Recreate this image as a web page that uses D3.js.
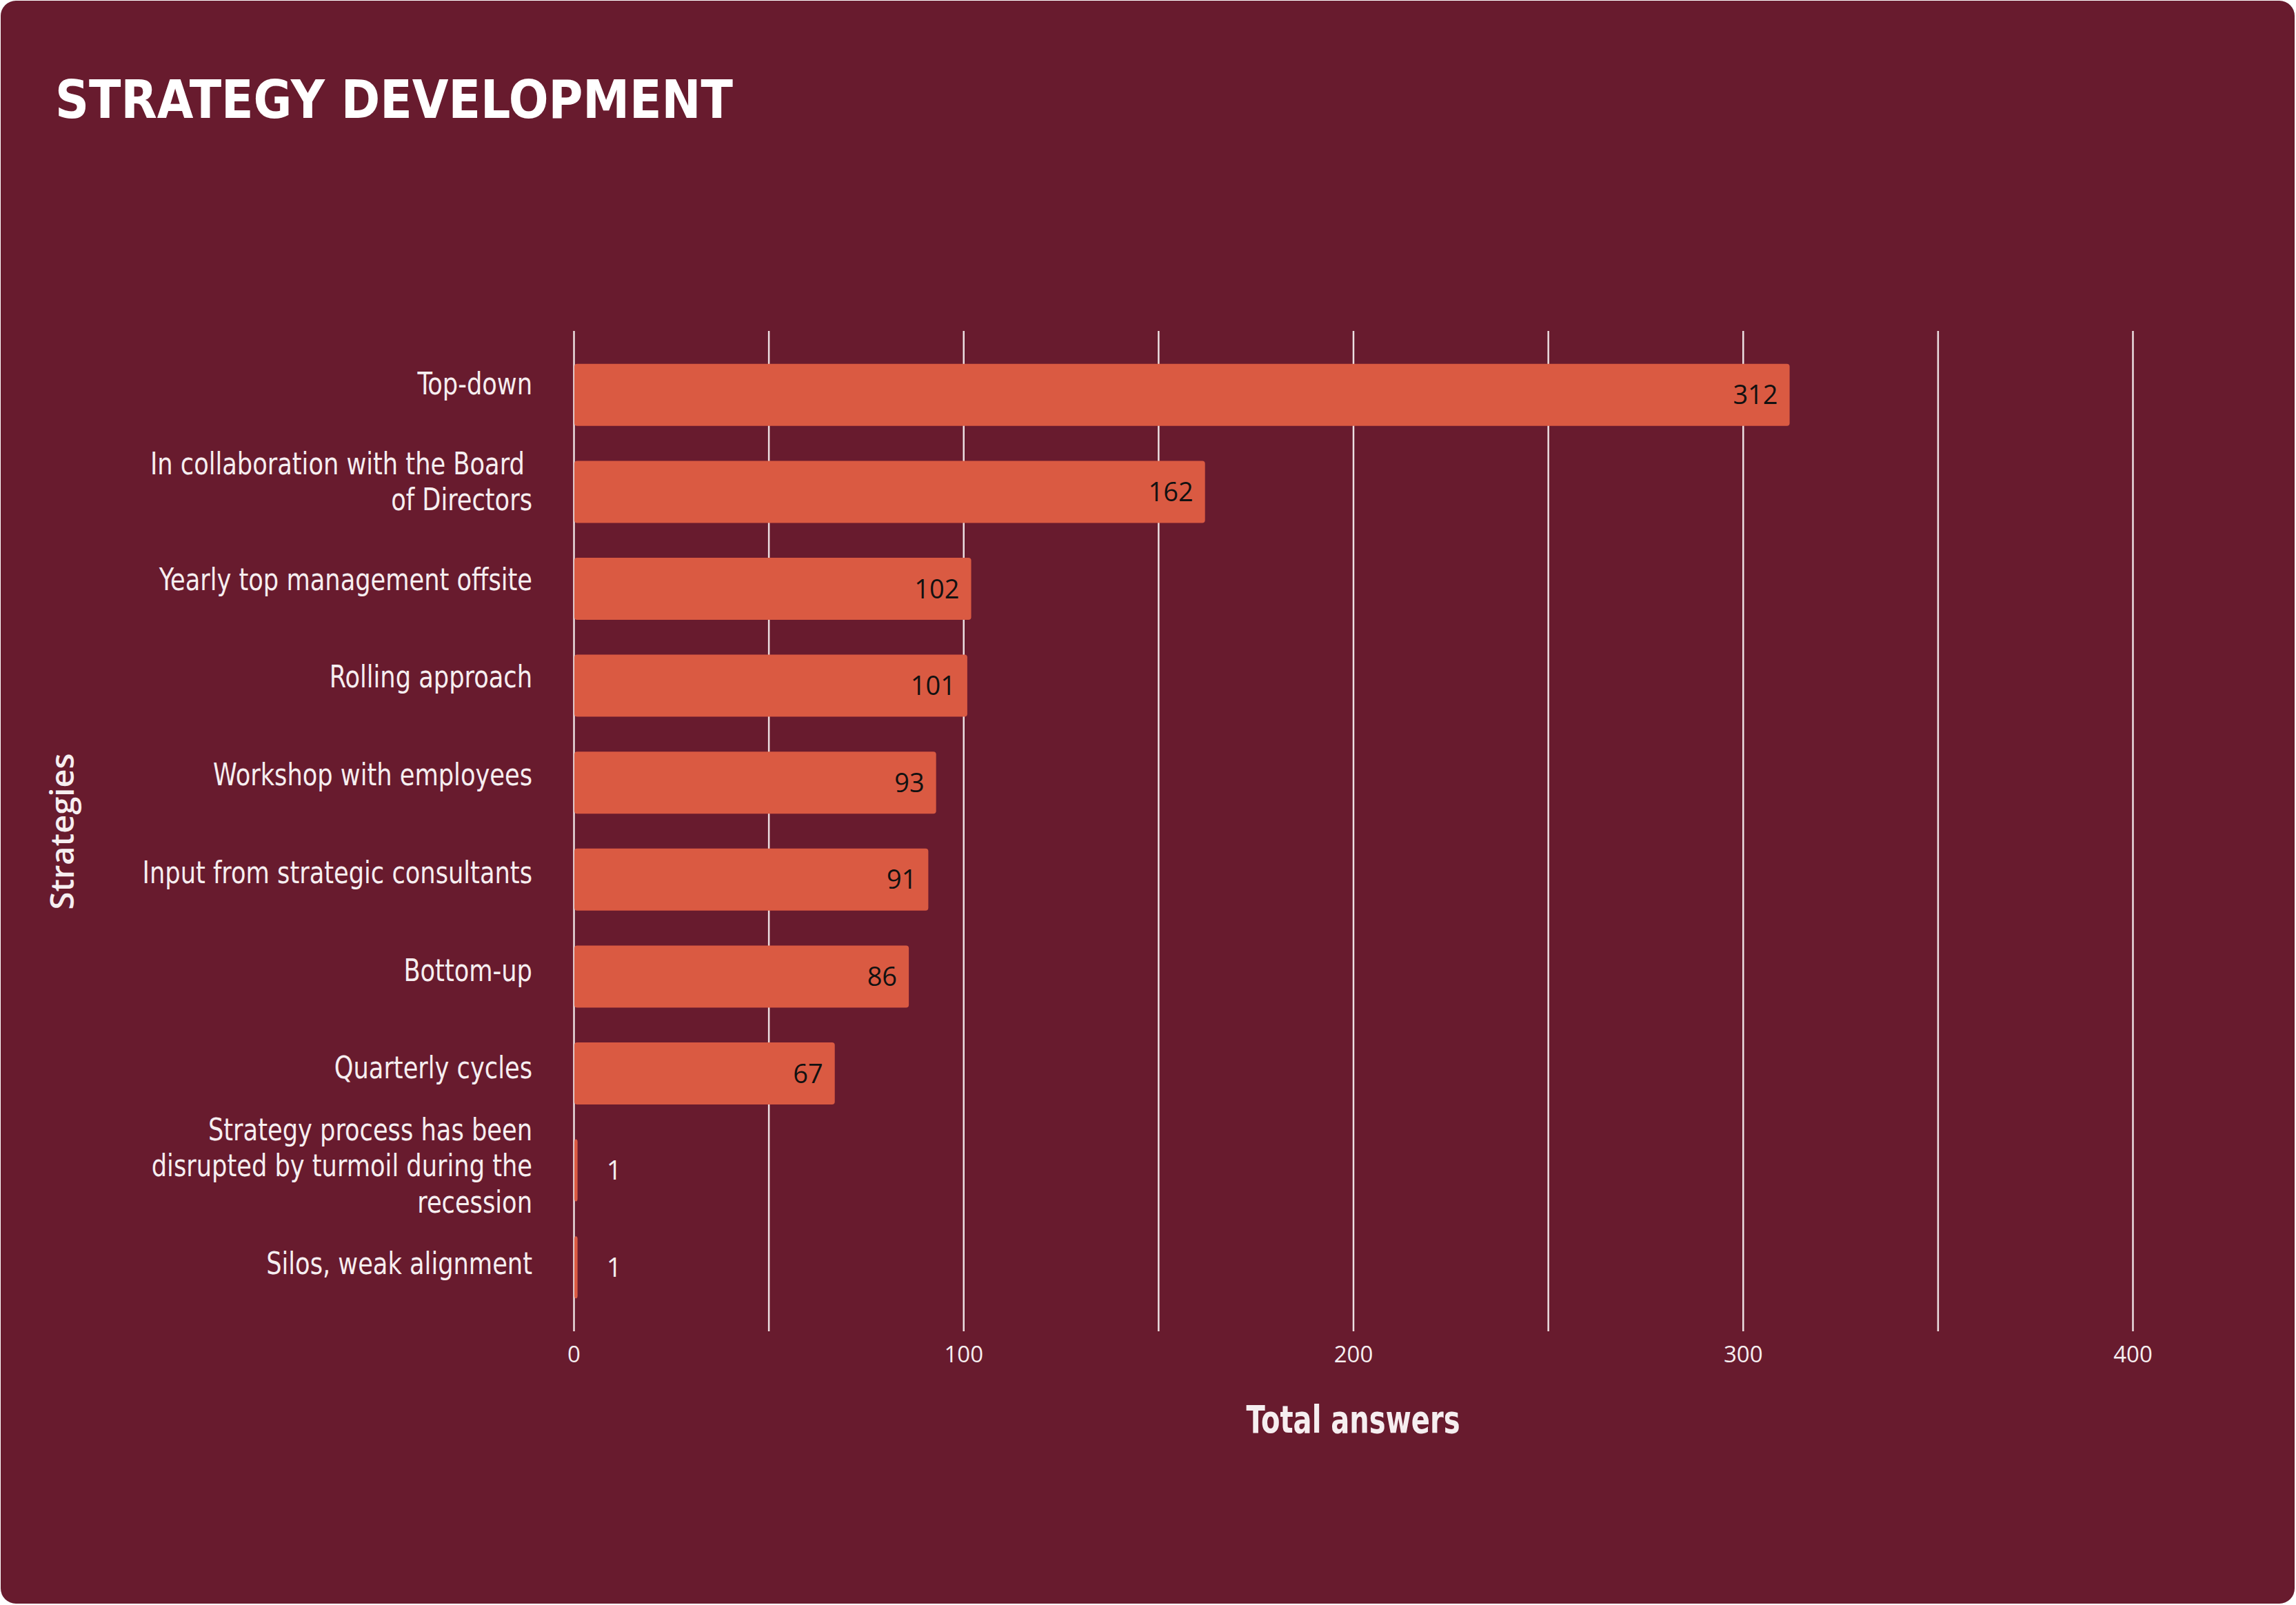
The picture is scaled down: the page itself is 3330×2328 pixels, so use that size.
<!DOCTYPE html>
<html>
<head>
<meta charset="utf-8">
<script src="https://cdn.jsdelivr.net/npm/d3@7"></script>
<style>
  html, body { margin: 0; padding: 0; background: #ffffff; }
  svg { display: block; }
</style>
</head>
<body>
<script>
// ---- data ----
const title = "STRATEGY DEVELOPMENT";
const categories = [
  "Top-down",
  "In collaboration with the Board \nof Directors",
  "Yearly top management offsite",
  "Rolling approach",
  "Workshop with employees",
  "Input from strategic consultants",
  "Bottom-up",
  "Quarterly cycles",
  "Strategy process has been\ndisrupted by turmoil during the\nrecession",
  "Silos, weak alignment"
];
const values = [312, 162, 102, 101, 93, 91, 86, 67, 1, 1];
const gridTicks = [0, 50, 100, 150, 200, 250, 300, 350, 400];
const labelTicks = [0, 100, 200, 300, 400];
const xAxisTitle = "Total answers";
const yAxisTitle = "Strategies";

// ---- layout ----
const W = 3330, H = 2328;
const BG = "#681b2e", BAR = "#da5a42", GRID = "#ecdfe1", TXT = "#f6eef0";
const condensed = "'Liberation Sans Narrow', 'DejaVu Sans Condensed', 'Roboto', sans-serif";
const sans = "'Open Sans', 'Noto Sans', sans-serif";

const svg = d3.select("body").append("svg").attr("width", W).attr("height", H);

svg.append("rect").attr("x", 1).attr("y", 1).attr("width", W - 3).attr("height", H - 3)
  .attr("rx", 22).attr("fill", BG);

svg.append("text").attr("x", 80).attr("y", 171)
  .attr("font-family", condensed).attr("font-weight", 700).attr("font-size", 76)
  .attr("fill", "#ffffff").attr("textLength", 983).attr("lengthAdjust", "spacingAndGlyphs")
  .text(title);

const x = d3.scaleLinear().domain([0, 400]).range([832, 3093]);
const y = d3.scaleBand().domain(categories).range([480, 1931]).paddingInner(0.36).paddingOuter(0.34);
const yLab = d3.scalePoint().domain(categories).range([557, 1833]);

// grid + axis
const axis = d3.axisBottom(x).tickValues(gridTicks).tickSize(-(1931 - 480)).tickPadding(22)
  .tickFormat(d => labelTicks.includes(d) ? d : "");
const gx = svg.append("g").attr("transform", "translate(0,1931)").call(axis);
gx.select(".domain").remove();
gx.selectAll(".tick line").attr("stroke", GRID).attr("stroke-width", 2.5);
gx.selectAll(".tick text").attr("fill", TXT).attr("font-family", sans).attr("font-size", 33);

// bars
svg.append("g").selectAll("rect").data(categories).join("rect")
  .attr("x", x(0) + 1)
  .attr("y", d => y(d))
  .attr("width", (d, i) => x(values[i]) - x(0) - 1)
  .attr("height", y.bandwidth())
  .attr("rx", 4)
  .attr("fill", BAR);

// value labels
svg.append("g").selectAll("text").data(categories).join("text")
  .each(function (d, i) {
    const v = values[i];
    const inside = (x(v) - x(0)) > 100;
    d3.select(this)
      .attr("x", inside ? x(v) - 17 : x(v) + 42)
      .attr("y", y(d) + y.bandwidth() / 2)
      .attr("dy", "0.36em")
      .attr("text-anchor", inside ? "end" : "start")
      .attr("fill", inside ? "#111111" : TXT)
      .attr("font-family", sans).attr("font-size", 38)
      .text(v);
  });

// category labels (condensed horizontally to match the narrow face)
const lineH = 52.5;
svg.append("g").selectAll("text").data(categories).join("text")
  .attr("transform", "translate(772,0) scale(0.89,1)")
  .attr("text-anchor", "end")
  .attr("font-family", condensed).attr("font-size", 44).attr("fill", TXT)
  .style("white-space", "pre")
  .each(function (d) {
    const lines = d.split("\n");
    const n = lines.length;
    d3.select(this).selectAll("tspan").data(lines).join("tspan")
      .attr("x", 0)
      .attr("y", (l, j) => yLab(d) + 15 + (j - (n - 1) / 2) * lineH)
      .text(l => l);
  });

// axis titles
svg.append("text").attr("x", (x(0) + x(400)) / 2).attr("y", 2078)
  .attr("text-anchor", "middle").attr("font-family", condensed).attr("font-weight", 700)
  .attr("font-size", 56).attr("fill", TXT)
  .attr("textLength", 310).attr("lengthAdjust", "spacingAndGlyphs")
  .text(xAxisTitle);

svg.append("text").attr("transform", "translate(107,1206) rotate(-90)")
  .attr("text-anchor", "middle").attr("font-family", sans).attr("font-weight", 600)
  .attr("font-size", 47).attr("fill", TXT).text(yAxisTitle);
</script>
</body>
</html>
